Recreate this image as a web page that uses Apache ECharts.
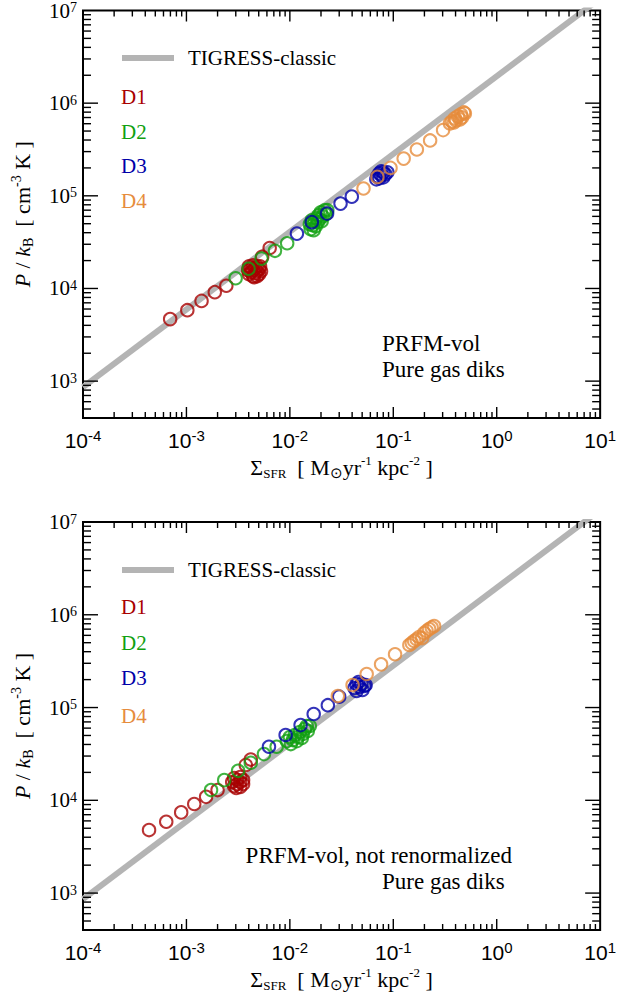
<!DOCTYPE html>
<html><head><meta charset="utf-8">
<script src="https://cdn.jsdelivr.net/npm/echarts@6/dist/echarts.min.js"></script>
<style>html,body{margin:0;padding:0;background:#fff}#c{width:619px;height:996px}</style>
</head><body><div id="c"></div>
<script>
// ---------------- data ----------------
const xMajorTicks = [1e-4, 1e-3, 1e-2, 1e-1, 1, 10];
const yMajorTicks = [1e3, 1e4, 1e5, 1e6, 1e7];
const xMinorMantissa = [2, 3, 4, 5, 6, 7, 8, 9];
const seriesNames = ['D1', 'D2', 'D3', 'D4'];
const seriesColors = ['#a80000', '#10a010', '#0000a8', '#e68c3c'];
const tigressLine = [[1e-4, 860], [10, 1.35e7]];

const top_D1 = [[6.96e-4,4670],[1.02e-3,5830],[1.40e-3,7340],[1.88e-3,9120],[2.43e-3,1.07e4],
  [3.95e-3,1.573e4],[4.03e-3,1.738e4],[4.03e-3,1.424e4],[4.22e-3,1.653e4],[4.22e-3,1.497e4],[4.41e-3,1.781e4],
  [4.41e-3,1.573e4],[4.41e-3,1.356e4],[4.61e-3,1.653e4],[4.61e-3,1.46e4],[4.82e-3,1.738e4],[4.82e-3,1.534e4],
  [4.82e-3,1.356e4],[5.04e-3,1.61e4],[5.04e-3,1.424e4],[5.26e-3,1.534e4],[5.15e-3,1.738e4],[4.51e-3,1.323e4],
  [5.4e-3,2.2e4],[6.38e-3,2.73e4]];
const top_D2 = [[2.99e-3,1.29e4],[3.99e-3,1.63e4],[5.32e-3,2.1e4],[7.18e-3,2.55e4],[9.42e-3,3.08e4],
  [1.59e-2,4.35e4],[1.66e-2,4.81e4],[1.74e-2,5.31e4],[1.82e-2,5.72e4],[1.90e-2,6.16e4],[1.99e-2,6.64e4],
  [2.17e-2,6.98e4],[1.56e-2,4.93e4],[1.70e-2,4.25e4],[1.78e-2,4.69e4],[1.86e-2,5.18e4],[1.94e-2,5.58e4],
  [2.08e-2,6.01e4],[2.22e-2,6.32e4],[1.63e-2,5.44e4],[2.03e-2,5.31e4],[2.3e-2,7.0e4]];
const top_D3 = [[1.17e-2,3.91e4],[1.63e-2,5.2e4],[2.29e-2,6.43e4],[3.09e-2,8.24e4],[3.97e-2,9.8e4],
  [7.02e-2,1.623e5],[7.33e-2,1.748e5],[7.33e-2,1.544e5],[7.66e-2,1.663e5],[8.01e-2,1.792e5],[8.01e-2,1.583e5],
  [8.38e-2,1.705e5],[8.76e-2,1.792e5],[7.66e-2,1.838e5],[6.86e-2,1.506e5]];
const top_D4 = [[5.15e-2,1.2e5],[7.02e-2,1.6e5],[9.4e-2,2.0e5],[0.126,2.52e5],[0.169,3.16e5],[0.227,3.96e5],[0.303,5.12e5],
  [0.369,6.36e5],[0.394,6.85e5],[0.421,7.2e5],[0.451,7.57e5],[0.482,7.94e5],[0.404,6.51e5],[0.461,7.02e5],
  [0.353,6.05e5],[0.386,6.2e5],[0.441,6.68e5],[0.492,7.75e5]];

const bot_D1 = [[4.35e-4,4780],[6.38e-4,5870],[8.9e-4,7410],[1.19e-3,9120],[1.55e-3,1.09e4],[2.0e-3,1.29e4],
  [2.77e-3,1.573e4],[2.89e-3,1.738e4],[2.89e-3,1.424e4],[3.09e-3,1.653e4],[3.09e-3,1.497e4],[3.31e-3,1.781e4],
  [3.31e-3,1.573e4],[3.31e-3,1.39e4],[3.53e-3,1.653e4],[3.53e-3,1.497e4],[3.03e-3,1.356e4],
  [3.75e-3,2.4e4],[4.19e-3,2.75e4]];
const bot_D2 = [[1.73e-3,1.29e4],[2.32e-3,1.65e4],[3.16e-3,2.08e4],[4.19e-3,2.54e4],[5.62e-3,3.15e4],[7.45e-3,3.78e4],
  [9.36e-3,4.35e4],[1.0e-2,4.81e4],[1.069e-2,4.46e4],[1.117e-2,5.05e4],[1.194e-2,4.81e4],[1.248e-2,5.44e4],
  [1.334e-2,5.18e4],[1.394e-2,5.86e4],[1.49e-2,5.58e4],[1.557e-2,6.32e4],[1.022e-2,4.04e4],[1.168e-2,4.35e4],
  [1.304e-2,4.69e4],[1.457e-2,6.32e4]];
const bot_D3 = [[6.28e-3,3.78e4],[9.1e-3,5.06e4],[1.27e-2,6.47e4],[1.70e-2,8.51e4],[2.33e-2,1.06e5],[3.0e-2,1.31e5],
  [4.22e-2,1.623e5],[4.41e-2,1.792e5],[4.41e-2,1.506e5],[4.71e-2,1.663e5],[4.92e-2,1.792e5],[5.03e-2,1.544e5],
  [5.26e-2,1.705e5],[4.61e-2,1.883e5],[5.4e-2,1.75e5]];
const bot_D4 = [[2.91e-2,1.33e5],[4.04e-2,1.75e5],[5.53e-2,2.3e5],[7.62e-2,2.92e5],[0.104,3.75e5],
  [0.143,4.72e5],[0.159,5.21e5],[0.178,5.76e5],[0.199,6.35e5],[0.222,7.01e5],[0.248,7.57e5],[0.19,5.61e5],
  [0.151,4.95e5],[0.168,5.45e5],[0.21,6.7e5],[0.235,7.3e5]];

const panelData = [[top_D1, top_D2, top_D3, top_D4], [bot_D1, bot_D2, bot_D3, bot_D4]];
const panelNotes = [['PRFM-vol', 'Pure gas diks'], ['PRFM-vol, not renormalized', 'Pure gas diks']];
const legendLabel = 'TIGRESS-classic';

// ---------------- layout ----------------
const SERIF = '"Liberation Serif", "Times New Roman", serif';
const SANS = '"Liberation Sans", Arial, sans-serif';
const X_MIN = 1e-4, X_MAX = 10, Y_MIN = 400, Y_MAX = 1e7;
const grids = [{left: 83, top: 10, width: 520, height: 408}, {left: 83, top: 522, width: 520, height: 408}];

function powLabel(v) {
  const l = Math.log10(v), e = Math.round(l);
  if (Math.abs(l - e) > 1e-6) return '';
  return '{b|10}{s|' + e + '}';
}

// tick positions (axis decoration)
const tickData = [];
for (let d = -4; d < 1; d++) for (const m of xMinorMantissa) tickData.push([m * Math.pow(10, d), Y_MIN, 0]);
xMajorTicks.slice(1, -1).forEach(v => tickData.push([v, Y_MIN, 1]));
for (let d = 2; d < 7; d++) for (const m of xMinorMantissa) { const v = m * Math.pow(10, d); if (v > Y_MIN) tickData.push([X_MIN, v, 2]); }
yMajorTicks.slice(0, -1).forEach(v => tickData.push([X_MIN, v, 3]));

function renderTicks(params, api) {
  const cs = params.coordSys;
  const kind = api.value(2);
  const p = api.coord([api.value(0), api.value(1)]);
  let segs;
  if (kind < 2) {
    const L = kind === 1 ? 11 : 6, x = p[0];
    segs = [[x, cs.y + cs.height, x, cs.y + cs.height - L], [x, cs.y, x, cs.y + L]];
  } else {
    const L = kind === 3 ? 15 : 8, y = p[1];
    segs = [[cs.x, y, cs.x + L, y], [cs.x + cs.width, y, cs.x + cs.width - L, y]];
  }
  return {type: 'group', children: segs.map(s => ({type: 'line', shape: {x1: s[0], y1: s[1], x2: s[2], y2: s[3]}, style: {stroke: '#000', lineWidth: 1.4}}))};
}

const xAxes = [], yAxes = [], series = [], graphics = [];
grids.forEach((g, gi) => {
  xAxes.push({
    type: 'log', logBase: 10, gridIndex: gi, min: X_MIN, max: X_MAX,
    axisLine: {show: false}, axisTick: {show: false}, splitLine: {show: false}, minorTick: {show: false},
    axisLabel: {margin: 10, formatter: powLabel, showMinLabel: true, showMaxLabel: true, hideOverlap: false,
      rich: {b: {fontFamily: SANS, fontSize: 21, lineHeight: 24, color: '#000'},
             s: {fontFamily: SANS, fontSize: 15, lineHeight: 15, verticalAlign: 'top', color: '#000'}}},
    name: '{b|Σ}{sub|SFR}{b|  [ M}{sub2|⊙}{b|yr}{sup|-1}{b| kpc}{sup|-2}{b| ]}',
    nameLocation: 'middle', nameGap: 36,
    nameTextStyle: {rich: {
      b: {fontFamily: SERIF, fontSize: 22, lineHeight: 26, color: '#000'},
      sub: {fontFamily: SERIF, fontSize: 13, lineHeight: 12, verticalAlign: 'bottom', color: '#000'},
      sub2: {fontFamily: SERIF, fontSize: 15, lineHeight: 13, verticalAlign: 'bottom', color: '#000'},
      sup: {fontFamily: SERIF, fontSize: 13, lineHeight: 14, verticalAlign: 'top', color: '#000'}}}
  });
  yAxes.push({
    type: 'log', logBase: 10, gridIndex: gi, min: Y_MIN, max: Y_MAX,
    axisLine: {show: false}, axisTick: {show: false}, splitLine: {show: false}, minorTick: {show: false},
    axisLabel: {margin: 6, formatter: powLabel, showMinLabel: true, showMaxLabel: true, hideOverlap: false,
      rich: {b: {fontFamily: SERIF, fontSize: 21, lineHeight: 20, color: '#000'},
             s: {fontFamily: SERIF, fontSize: 14, lineHeight: 12, verticalAlign: 'top', color: '#000'}}},
    name: '{i|P}{b| / }{i|k}{sub|B}{b|  [ cm}{sup|-3}{b| K ]}',
    nameLocation: 'middle', nameRotate: 90, nameGap: 48,
    nameTextStyle: {rich: {
      b: {fontFamily: SERIF, fontSize: 22, lineHeight: 26, color: '#000'},
      i: {fontFamily: SERIF, fontStyle: 'italic', fontSize: 22, lineHeight: 26, color: '#000'},
      sub: {fontFamily: SERIF, fontSize: 14, lineHeight: 12, verticalAlign: 'bottom', color: '#000'},
      sup: {fontFamily: SERIF, fontSize: 14, lineHeight: 14, verticalAlign: 'top', color: '#000'}}}
  });
  series.push({type: 'line', name: legendLabel, xAxisIndex: gi, yAxisIndex: gi, data: tigressLine,
    showSymbol: false, symbol: 'none', clip: true, lineStyle: {color: '#b4b4b4', width: 6}, silent: true, z: 2});
  panelData[gi].forEach((d, si) => {
    series.push({type: 'scatter', name: seriesNames[si], xAxisIndex: gi, yAxisIndex: gi, data: d,
      symbol: 'circle', symbolSize: 12.5, silent: true, z: 3 + si,
      itemStyle: {color: 'rgba(0,0,0,0)', borderColor: seriesColors[si], borderWidth: 2}});
  });
  series.push({type: 'custom', xAxisIndex: gi, yAxisIndex: gi, data: tickData, renderItem: renderTicks, silent: true, z: 10, clip: false});

  const off = g.top - 10;
  const legY = gi === 0 ? [58, 97, 131.5, 166, 200.5] : [570, 607, 642.5, 678, 715.5];
  graphics.push({type: 'line', shape: {x1: 122, y1: legY[0], x2: 174, y2: legY[0]}, style: {stroke: '#b4b4b4', lineWidth: 6}});
  graphics.push({type: 'text', x: 188, y: legY[0], style: {text: legendLabel, fontFamily: SERIF, fontSize: 21, fill: '#000', align: 'left', verticalAlign: 'middle'}});
  seriesNames.forEach((n, si) => graphics.push({type: 'text', x: 121, y: legY[si + 1],
    style: {text: n, fontFamily: SERIF, fontSize: 21, fill: seriesColors[si], align: 'left', verticalAlign: 'middle'}}));
  if (gi === 0) {
    graphics.push({type: 'text', x: 382, y: 343 + off, style: {text: panelNotes[0][0], fontFamily: SERIF, fontSize: 23, fill: '#000', align: 'left', verticalAlign: 'middle'}});
    graphics.push({type: 'text', x: 382, y: 369 + off, style: {text: panelNotes[0][1], fontFamily: SERIF, fontSize: 23, fill: '#000', align: 'left', verticalAlign: 'middle'}});
  } else {
    graphics.push({type: 'text', x: 512, y: 855, style: {text: panelNotes[1][0], fontFamily: SERIF, fontSize: 23, fill: '#000', align: 'right', verticalAlign: 'middle'}});
    graphics.push({type: 'text', x: 382, y: 881, style: {text: panelNotes[1][1], fontFamily: SERIF, fontSize: 23, fill: '#000', align: 'left', verticalAlign: 'middle'}});
  }
});

const chart = echarts.init(document.getElementById('c'), null, {renderer: 'svg'});
chart.setOption({
  animation: false,
  backgroundColor: '#fff',
  grid: grids.map(g => Object.assign({show: true, borderColor: '#000', borderWidth: 2, backgroundColor: 'rgba(0,0,0,0)', containLabel: false}, g)),
  xAxis: xAxes, yAxis: yAxes, series: series, graphic: graphics
});
</script></body></html>
